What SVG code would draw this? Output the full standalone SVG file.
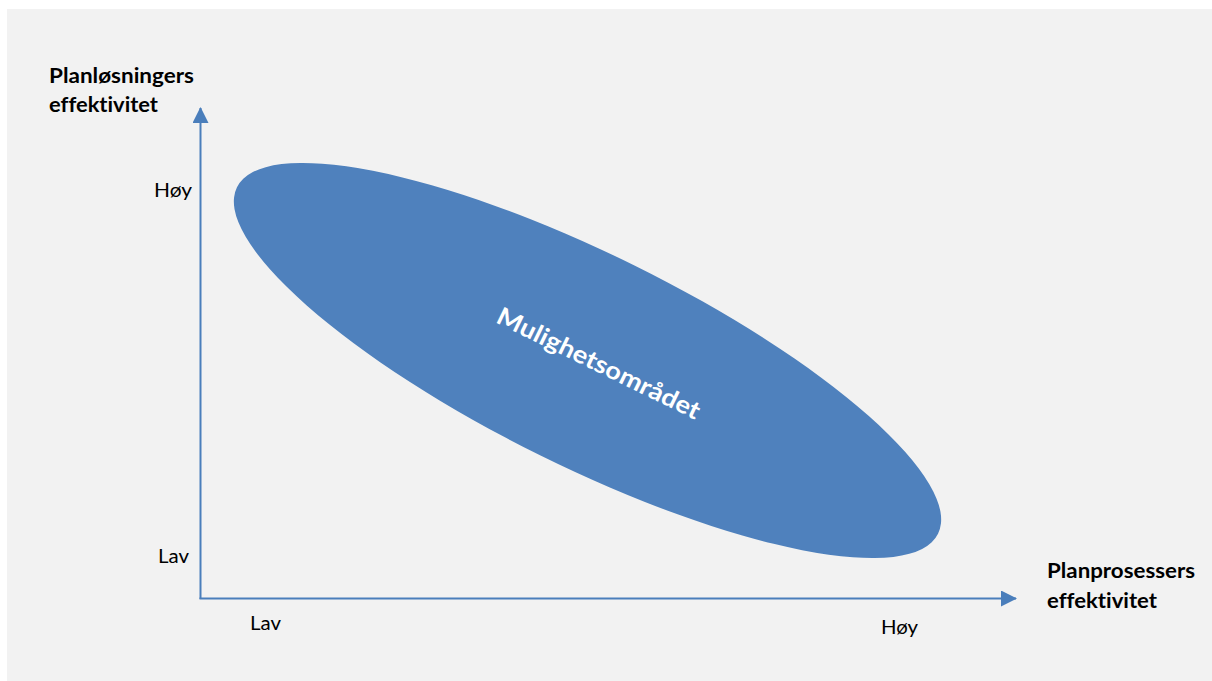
<svg xmlns="http://www.w3.org/2000/svg" width="1212" height="681" viewBox="0 0 1212 681">
  <defs>
    <style>
      .lbl { font-family: Lato, "Open Sans", "Liberation Sans", sans-serif; fill: #000000; font-variant-ligatures: none; }
      .bold { font-weight: bold; font-size: 21.5px; }
      .reg { font-size: 19.5px; }
      .axis { stroke: #4a7ebb; stroke-width: 2; fill: none; }
      .inner { font-family: Lato, "Open Sans", "Liberation Sans", sans-serif; font-weight: bold; font-size: 24.5px; fill: #ffffff; font-variant-ligatures: none; }
    </style>
    <marker id="arrow" viewBox="0 0 16 16" refX="15" refY="8" markerWidth="16" markerHeight="16" markerUnits="userSpaceOnUse" orient="auto">
      <path d="M0,0 L16,8 L0,16 Z" fill="#4a7ebb"/>
    </marker>
  </defs>
  <rect x="0" y="0" width="1212" height="681" fill="#ffffff"/>
  <rect x="7" y="9" width="1205" height="672" fill="#f2f2f2"/>

  <g id="region">
    <ellipse cx="587.5" cy="360.5" rx="391" ry="106" transform="rotate(26.3 587.5 360.5)" fill="#4f81bd"/>
    <text class="inner" x="595" y="371" text-anchor="middle" textLength="223" lengthAdjust="spacingAndGlyphs" transform="rotate(26 595 371)">Mulighetsområdet</text>
  </g>

  <g id="connectors">
    <line class="axis" x1="200.5" y1="599" x2="200.5" y2="108" marker-end="url(#arrow)"/>
    <line class="axis" x1="199.5" y1="598.5" x2="1016" y2="598.5" marker-end="url(#arrow)"/>
  </g>

  <g id="y-axis-title">
    <text class="lbl bold" x="49" y="83" textLength="145" lengthAdjust="spacingAndGlyphs">Planløsningers</text>
    <text class="lbl bold" x="49" y="112" textLength="109" lengthAdjust="spacingAndGlyphs">effektivitet</text>
  </g>
  <g id="x-axis-title">
    <text class="lbl bold" x="1047" y="578" textLength="148" lengthAdjust="spacingAndGlyphs">Planprosessers</text>
    <text class="lbl bold" x="1047" y="608" textLength="110" lengthAdjust="spacingAndGlyphs">effektivitet</text>
  </g>
  <g id="y-high"><text class="lbl reg" x="154" y="197" textLength="38" lengthAdjust="spacingAndGlyphs">Høy</text></g>
  <g id="y-low"><text class="lbl reg" x="158" y="563" textLength="31" lengthAdjust="spacingAndGlyphs">Lav</text></g>
  <g id="x-low"><text class="lbl reg" x="250" y="630" textLength="31" lengthAdjust="spacingAndGlyphs">Lav</text></g>
  <g id="x-high"><text class="lbl reg" x="881" y="634" textLength="37" lengthAdjust="spacingAndGlyphs">Høy</text></g>
</svg>
